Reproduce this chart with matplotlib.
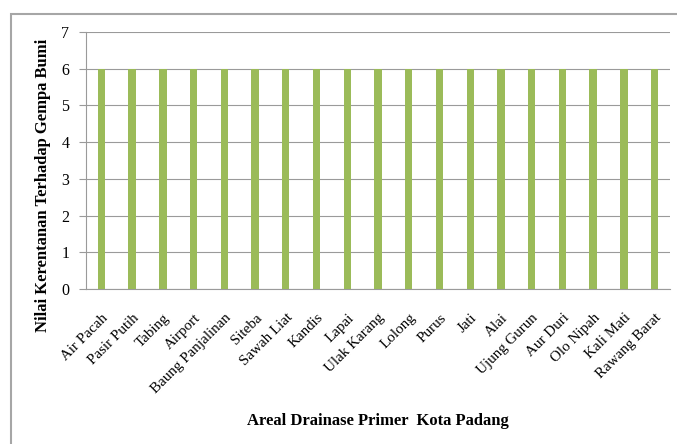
import matplotlib
matplotlib.use("Agg")
import matplotlib.pyplot as plt
from matplotlib.patches import Rectangle

categories = ["Air Pacah", "Pasir Putih", "Tabing", "Airport", "Baung Panjalinan",
              "Siteba", "Sawah Liat", "Kandis", "Lapai", "Ulak Karang", "Lolong",
              "Purus", "Jati", "Alai", "Ujung Gurun", "Aur Duri", "Olo Nipah",
              "Kali Mati", "Rawang Barat"]
values = [6] * 19
yticks = [0, 1, 2, 3, 4, 5, 6, 7]

plt.rcParams['font.family'] = ['Liberation Serif', 'DejaVu Serif']

W, H = 677, 444
fig = plt.figure(figsize=(W / 100, H / 100), dpi=100)
fig.patch.set_facecolor('white')

# outer chart frame
fig.patches.append(Rectangle((11 / W, -0.05), 1.2, (H - 14) / H + 0.05,
                             transform=fig.transFigure, fill=False,
                             edgecolor='#a6a6a6', linewidth=1.5))

ax = fig.add_axes([86 / W, 1 - 289 / H, (670 - 86) / W, (289 - 32) / H])
x = list(range(len(categories)))
ax.bar(x, values, width=0.24, color='#9BBB59', zorder=3)
ax.set_xlim(-0.5, len(categories) - 0.5)
ax.set_ylim(0, 7)
ax.set_yticks(yticks)
ax.set_yticklabels([str(v) for v in yticks], fontsize=11.5)
ax.yaxis.grid(True, color='#9a9a9a', linewidth=0.8, zorder=0)
ax.tick_params(axis='y', length=5, color='#9a9a9a', pad=7)
ax.tick_params(axis='x', length=0, pad=16)
ax.set_xticks(x)
ax.set_xticklabels(categories, rotation=45, ha='right', rotation_mode='anchor',
                   fontsize=10.8)
for s in ['top', 'right']:
    ax.spines[s].set_visible(False)
ax.spines['left'].set_color('#9a9a9a')
ax.spines['bottom'].set_color('#9a9a9a')

fig.text(43 / W, 1 - 185 / H, "Nilai Kerentanan Terhadap Gempa Bumi",
         rotation=90, ha='center', va='center', fontsize=12, fontweight='bold')
fig.text(378 / W, 1 - 421 / H, "Areal Drainase Primer  Kota Padang",
         ha='center', va='center', fontsize=12, fontweight='bold')

fig.savefig("out.png", dpi=100)
